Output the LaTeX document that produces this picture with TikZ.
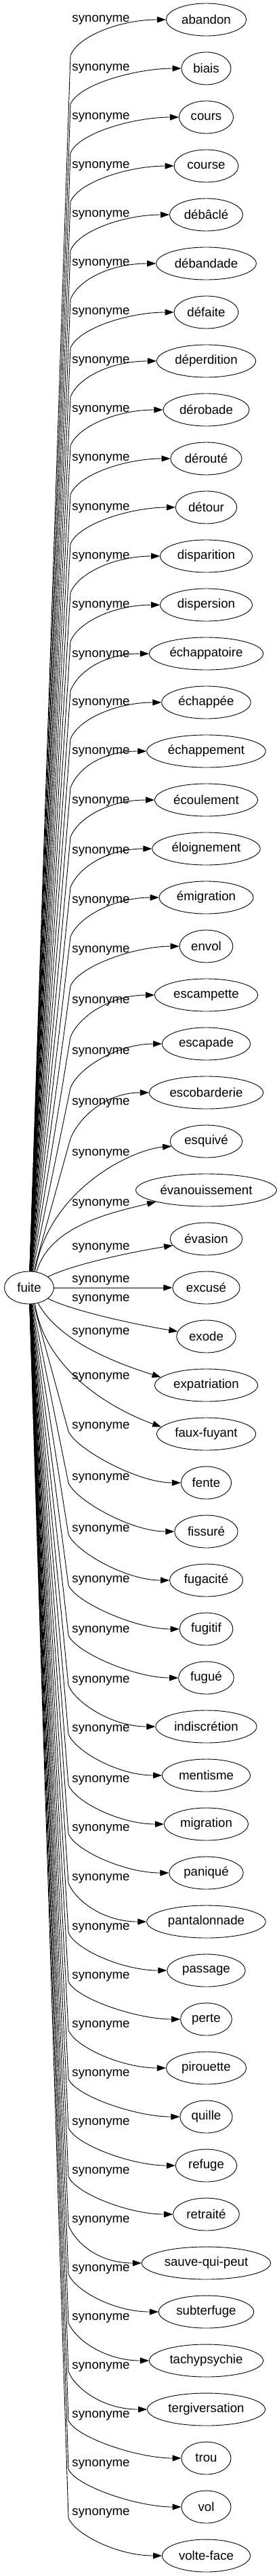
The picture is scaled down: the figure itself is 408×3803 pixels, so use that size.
\documentclass[tikz,border=0pt]{standalone}
\usepackage{fontspec}
\setmainfont{Liberation Sans}
\usetikzlibrary{arrows.meta,shapes.geometric,calc}
\tikzset{
  term/.style={draw,ellipse,line width=0.9pt,minimum width=73pt,minimum height=48pt,inner xsep=5.5pt,inner ysep=0pt,font=\fontsize{18.67}{20}\selectfont},
  rel/.style={inner sep=0pt,font=\fontsize{18.67}{20}\selectfont},
  link/.style={-{Triangle[length=13pt,width=9pt]},line width=0.9pt},
}
\begin{document}
\begin{tikzpicture}[x=1pt,y=-1pt]
 \useasboundingbox (0,0) rectangle (408,3803);
 \node[term] (fuite) at (43,1901) {fuite};
 \foreach \i/\w/\o in {1/abandon/0,2/biais/0,3/cours/0,4/course/0,5/débâclé/0,6/débandade/0,7/défaite/0,8/déperdition/0,9/dérobade/0,10/dérouté/0,11/détour/1,12/disparition/1,13/dispersion/1,14/échappatoire/2,15/échappée/1,16/échappement/1,17/écoulement/2,18/éloignement/4,19/émigration/5,20/envol/6,21/escampette/9,22/escapade/12,23/escobarderie/15,24/esquivé/18,25/évanouissement/20,26/évasion/13,27/excusé/-11,28/exode/-55,29/expatriation/-78,30/faux-fuyant/-84,31/fente/-83,32/fissuré/-79,33/fugacité/-75,34/fugitif/-72,35/fugué/-70,36/indiscrétion/-68,37/mentisme/-68,38/migration/-65,39/paniqué/-65,40/pantalonnade/-64,41/passage/-63,42/perte/-63,43/pirouette/-63,44/quille/-63,45/refuge/-63,46/retraité/-63,47/sauve-qui-peut/-63,48/subterfuge/-63,49/tachypsychie/-63,50/tergiversation/-63,51/trou/-63,52/vol/-63,53/volte-face/-63}{
   \pgfmathsetmacro{\ny}{29+72*(\i-1)}
   \pgfmathsetmacro{\ly}{\ny+\o}
   \pgfmathsetmacro{\kx}{\i<27 ? 104 : 101}
   \pgfmathsetmacro{\ky}{\i<27 ? \ly+53 : \ly+7}
   \node[term] (n\i) at (304.5,\ny) {\w};
   \node[rel] (l\i) at (149,\ly) {synonyme};
   \coordinate (k\i) at (\kx,\ky);
 }
 \foreach \i in {1,...,23}
   \draw[link] (fuite) -- (k\i) .. controls +(12,-30) and +(-65,0) .. (n\i.west);
 \draw[link] (fuite.70) .. controls +(20,-120) and +(-60,5) .. (n24.188);
 \draw[link] (fuite.65) .. controls +(20,-70) and +(-60,15) .. (n25.193);
 \draw[link] (fuite.30) .. controls +(40,-20) and +(-50,8) .. (n26.191);
 \draw[link] (fuite) -- (n27);
 \draw[link] (fuite.-30) .. controls +(40,20) and +(-50,-8) .. (n28.170);
 \draw[link] (fuite.-60) .. controls +(30,55) and +(-70,-22) .. (n29.170);
 \draw[link] (fuite.-70) .. controls +(15,100) and +(-70,-25) .. (n30.171);
 \foreach \i in {31,...,53}
   \draw[link] (fuite) -- (k\i) .. controls +(10,25) and +(-65,0) .. (n\i.west);
\end{tikzpicture}
\end{document}
